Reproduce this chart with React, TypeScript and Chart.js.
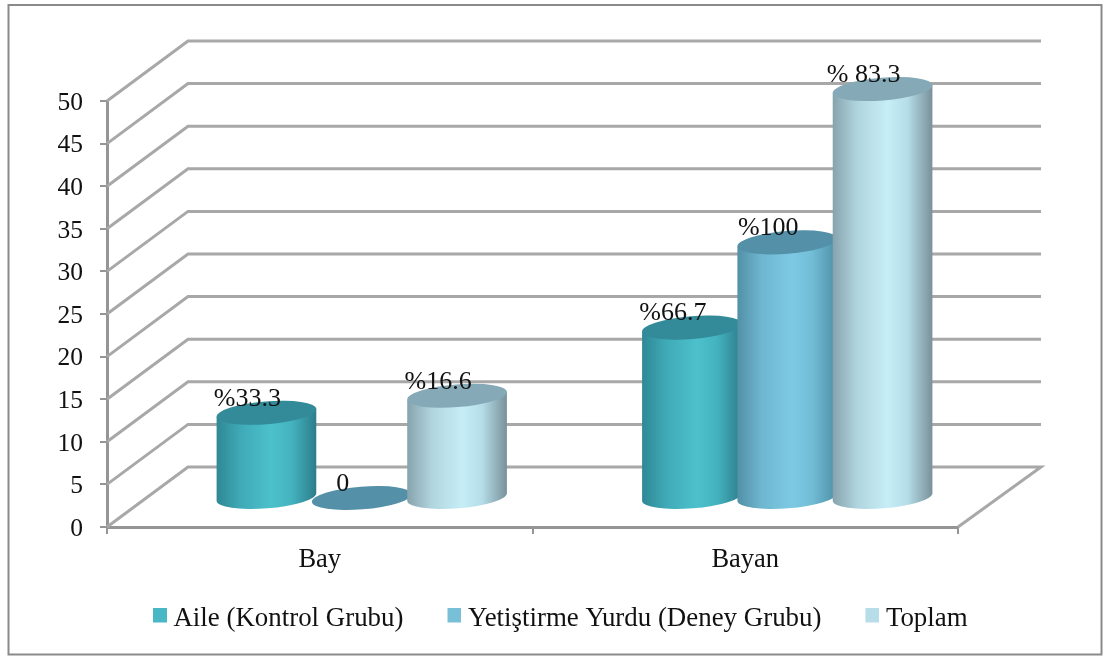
import React, { useEffect, useRef } from "react";
import { Chart, registerables } from "chart.js";

Chart.register(...registerables);

const categories = ["Bay", "Bayan"];
const seriesNames = ["Aile (Kontrol Grubu)", "Yetiştirme Yurdu (Deney Grubu)", "Toplam"];
const aile = [10, 20];
const yurt = [0, 30];
const toplam = [12, 48];
const aileLabels = ["%33.3", "%66.7"];
const yurtLabels = ["0", "%100"];
const toplamLabels = ["%16.6", "% 83.3"];
const legendColors = ["#49b7c5", "#78c0d7", "#b7dee8"];

const FONT = '"Liberation Serif", "Times New Roman", serif';
const GRID = "#a8a8a8";
const AXIS = "#959595";
const DEPTH_X = 81;
const DEPTH_Y = -60;
const BAR_DX = 42;
const BAR_DY = -29;
const RX = 50;
const RY = 11.4;
const TILT = (-4.6 * Math.PI) / 180;

const shades = [
  { stops: ["#2f8794", "#40abb8", "#4cc1cb", "#44b3bf", "#2d7c8b"], top: "#338a98" },
  { stops: ["#5290a6", "#6fb7d1", "#7dc9e3", "#72bcd6", "#4d8ea6"], top: "#5490a8" },
  { stops: ["#86a3ad", "#b1d5e0", "#c6eef7", "#b5dde8", "#78909a"], top: "#86a9b7" },
];

function markerFor(color: string) {
  const c = document.createElement("canvas");
  c.width = 21;
  c.height = 20;
  const g = c.getContext("2d")!;
  g.fillStyle = color;
  g.fillRect(7, 0, 14, 14);
  return c;
}

function drawCylinder(ctx: any, cx: number, topY: number, baseY: number, shade: any) {
  const sx = RX * Math.cos(TILT);
  const sy = RX * Math.sin(TILT);
  if (baseY - topY > 1) {
    const grad = ctx.createLinearGradient(cx - RX, 0, cx + RX, 0);
    [0, 0.25, 0.55, 0.75, 1].forEach((p, i) => grad.addColorStop(p, shade.stops[i]));
    ctx.beginPath();
    ctx.moveTo(cx - sx, topY - sy);
    ctx.lineTo(cx - sx, baseY - sy);
    ctx.ellipse(cx, baseY, RX, RY, TILT, Math.PI, 0, true);
    ctx.lineTo(cx + sx, topY + sy);
    ctx.closePath();
    ctx.fillStyle = grad;
    ctx.fill();
  }
  ctx.beginPath();
  ctx.ellipse(cx, topY, RX, RY, TILT, 0, Math.PI * 2);
  ctx.fillStyle = shade.top;
  ctx.fill();
}

const depthPlugin = {
  id: "depth",
  afterLayout(chart: any) {
    const lg = chart.legend;
    lg.left = 109;
    lg.right = 1103;
    lg.top = 561;
  },
  beforeDraw(chart: any) {
    const { ctx } = chart;
    ctx.save();
    ctx.fillStyle = "#fff";
    ctx.fillRect(0, 0, chart.width, chart.height);
    ctx.strokeStyle = "#8a8a8a";
    ctx.lineWidth = 2;
    ctx.strokeRect(8.5, 5, 1093, 649.5);
    ctx.restore();
  },
  beforeDatasetsDraw(chart: any) {
    const { ctx, scales } = chart;
    const { left, right } = chart.chartArea;
    ctx.save();
    ctx.strokeStyle = GRID;
    ctx.lineWidth = 3;
    ctx.lineJoin = "miter";
    scales.y.ticks.forEach((t: any) => {
      const y = scales.y.getPixelForValue(t.value);
      ctx.beginPath();
      ctx.moveTo(left, y);
      ctx.lineTo(left + DEPTH_X, y + DEPTH_Y);
      ctx.lineTo(right + DEPTH_X + 2, y + DEPTH_Y);
      if (t.value === 0) ctx.lineTo(right, y);
      ctx.stroke();
    });
    chart.data.datasets.forEach((_: any, i: number) => {
      chart.getDatasetMeta(i).data.forEach((el: any) => {
        drawCylinder(ctx, el.x + BAR_DX, el.y + BAR_DY, el.base + BAR_DY, shades[i]);
      });
    });
    ctx.restore();
  },
  beforeDatasetDraw() {
    return false;
  },
  afterDatasetsDraw(chart: any) {
    const { ctx } = chart;
    ctx.save();
    ctx.fillStyle = "#111";
    ctx.font = `26px ${FONT}`;
    ctx.textAlign = "center";
    ctx.textBaseline = "middle";
    chart.data.datasets.forEach((ds: any, i: number) => {
      chart.getDatasetMeta(i).data.forEach((el: any, j: number) => {
        ctx.fillText(ds.valueLabels[j], el.x + BAR_DX - 19, el.y + BAR_DY - 14);
      });
    });
    ctx.restore();
  },
};

export default function App() {
  const ref = useRef<HTMLCanvasElement | null>(null);
  useEffect(() => {
    const chart = new Chart(ref.current!, {
      type: "bar",
      plugins: [depthPlugin],
      data: {
        labels: categories,
        datasets: [
          { label: seriesNames[0], data: aile, backgroundColor: legendColors[0], valueLabels: aileLabels },
          { label: seriesNames[1], data: yurt, backgroundColor: legendColors[1], valueLabels: yurtLabels },
          { label: seriesNames[2], data: toplam, backgroundColor: legendColors[2], valueLabels: toplamLabels },
        ] as any,
      },
      options: {
        responsive: false,
        animation: false,
        devicePixelRatio: 1,
        datasets: { bar: { barPercentage: 1, categoryPercentage: 0.672 } },
        layout: { padding: { left: 0, right: 145, top: 101, bottom: 0 } },
        scales: {
          x: {
            afterFit(scale: any) {
              scale.height = 129 - scale.chart.legend.height;
            },
            border: { color: AXIS, width: 3 },
            grid: { drawOnChartArea: false, drawTicks: true, tickLength: 7, color: AXIS, lineWidth: 2 },
            ticks: { color: "#111", font: { family: FONT, size: 26.5 }, padding: 10, maxRotation: 0 },
          },
          y: {
            min: 0,
            max: 50,
            afterFit(scale: any) {
              scale.width = 107;
            },
            border: { color: AXIS, width: 3 },
            grid: { drawOnChartArea: false, drawTicks: true, tickLength: 7, color: AXIS, lineWidth: 2 },
            ticks: { stepSize: 5, color: "#111", font: { family: FONT, size: 25.5 }, padding: 17, labelOffset: 2 },
          },
        },
        plugins: {
          tooltip: { enabled: false },
          title: { display: false },
          legend: {
            position: "bottom",
            align: "start",
            labels: {
              color: "#111",
              font: { family: FONT, size: 26.9 },
              usePointStyle: true,
              pointStyleWidth: 7,
              boxHeight: 14,
              padding: 44,
              generateLabels: (c: any) =>
                c.data.datasets.map((ds: any, i: number) => ({
                  text: ds.label,
                  fillStyle: legendColors[i],
                  strokeStyle: "transparent",
                  lineWidth: 0,
                  fontColor: "#111",
                  pointStyle: markerFor(legendColors[i]),
                  datasetIndex: i,
                  hidden: false,
                })),
            },
          },
        },
      } as any,
    });
    return () => chart.destroy();
  }, []);
  return (
    <div style={{ position: "absolute", left: 0, top: 0, width: 1103, height: 656 }}>
      <canvas ref={ref} width={1103} height={656} style={{ display: "block" }} />
    </div>
  );
}
